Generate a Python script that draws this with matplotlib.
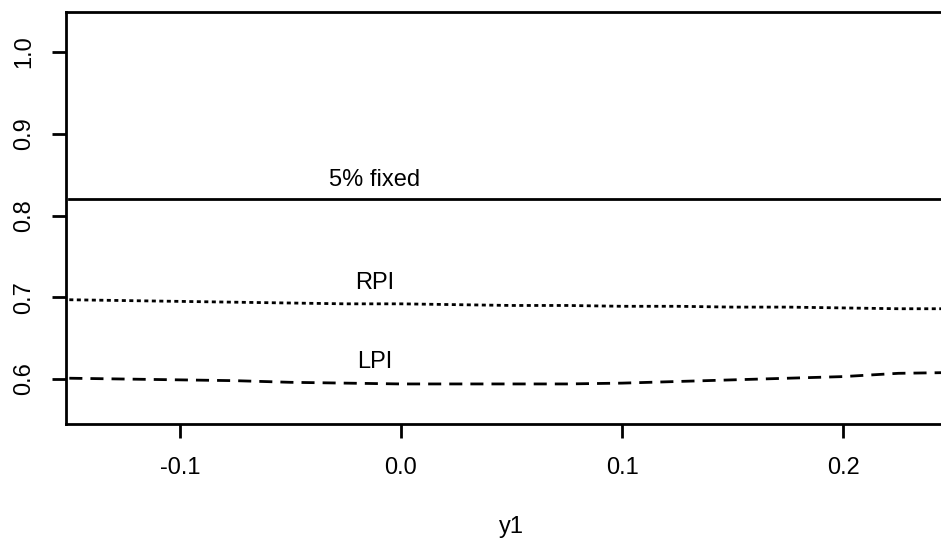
import matplotlib
matplotlib.use("Agg")
import matplotlib.pyplot as plt

plt.rcParams['font.family'] = ['Liberation Sans', 'DejaVu Sans']

# values
x = [-0.15, -0.125, -0.1, -0.075, -0.05, -0.025, 0.0, 0.025, 0.05, 0.075, 0.1,
     0.125, 0.15, 0.175, 0.2, 0.225, 0.25]
fixed = [0.82] * len(x)
rpi = [0.697, 0.696, 0.695, 0.694, 0.693, 0.692, 0.692, 0.691, 0.690, 0.690, 0.689,
       0.689, 0.688, 0.688, 0.687, 0.686, 0.686]
lpi = [0.601, 0.600, 0.599, 0.598, 0.596, 0.595, 0.594, 0.594, 0.594, 0.594, 0.595,
       0.597, 0.599, 0.601, 0.603, 0.607, 0.608]

labels = ["5% fixed", "RPI", "LPI"]
label_x = [-0.012, -0.012, -0.012]
label_y = [0.844, 0.717, 0.621]

W, H = 941, 542
fig = plt.figure(figsize=(W / 100, H / 100), dpi=100)
ax = fig.add_axes([66 / W, (H - 424) / H, (957 - 66) / W, (424 - 12) / H])

lw = 2.0
ax.plot(x, fixed, color="black", lw=lw, linestyle="-")
ax.plot(x, rpi, color="black", lw=lw, linestyle=(0, (1.45, 1.25)))
ax.plot(x, lpi, color="black", lw=lw, linestyle=(0, (4.7, 2.9)))

for t, tx, ty in zip(labels, label_x, label_y):
    ax.text(tx, ty, t, fontsize=17, ha="center", va="center")

ax.set_xlim(-0.1515, 0.2515)
ax.set_ylim(0.545, 1.049)
ax.set_xticks([-0.1, 0.0, 0.1, 0.2])
ax.set_xticklabels(["-0.1", "0.0", "0.1", "0.2"])
ax.set_yticks([0.6, 0.7, 0.8, 0.9, 1.0])
ax.set_yticklabels(["0.6", "0.7", "0.8", "0.9", "1.0"], rotation=90, va="center")
ax.tick_params(length=10, width=lw, labelsize=17)
ax.tick_params(axis="x", pad=14)
ax.tick_params(axis="y", pad=12)
for s in ax.spines.values():
    s.set_linewidth(lw)

# x label centred on the (partly cut off) plot region
fig.text(0.5 * (66 + 957) / W, 1 - 527 / H, "y1", fontsize=17, ha="center", va="center")

fig.savefig("out.png", dpi=100)
